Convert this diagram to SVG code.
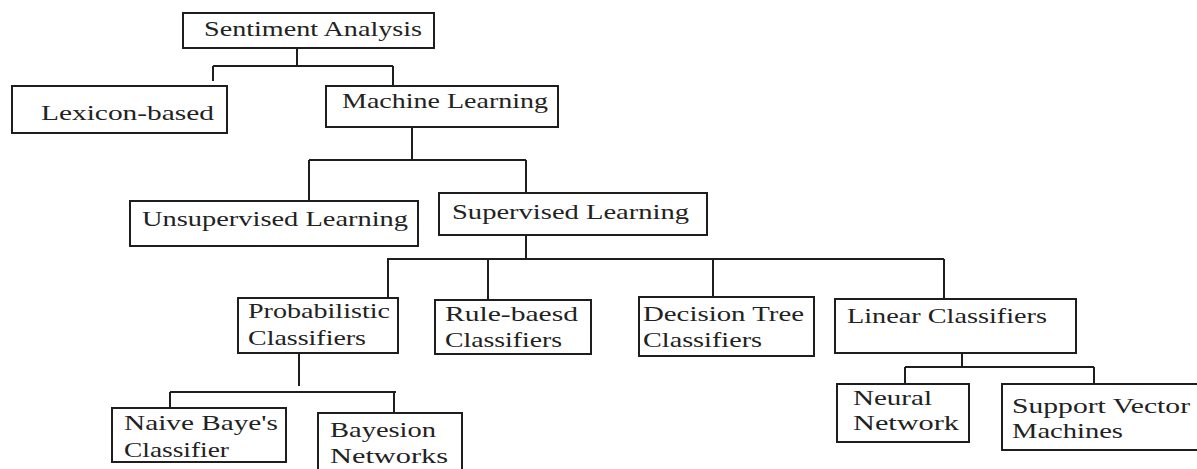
<svg xmlns="http://www.w3.org/2000/svg" width="1197" height="469" viewBox="0 0 1197 469">
<style>
.box{fill:#fff;stroke:#1e1e1e;stroke-width:2}
.t{font-family:"Liberation Serif","Times New Roman",serif;font-size:21px;fill:#222}
.c{fill:none;stroke:#1e1e1e;stroke-width:2}
</style>
<rect width="1197" height="469" fill="#fff"/>
<g id="connectors">
<path class="c" d="M297 48V66M213 66H393M213 66V81M393 66V86"/>
<path class="c" d="M412 127V160M309 160H526M309 160V201M526 160V193"/>
<path class="c" d="M526 235V259M387 259H944M388 259V298M488 259V300M713 259V297M944 259V299"/>
<path class="c" d="M299 353V386M170 392H396M170 392V408M394 392V413"/>
<path class="c" d="M962 353V367M905 367H1094M905 367V384M1094 367V384"/>
</g>
<g id="sentiment"><rect class="box" x="183" y="13" width="251" height="35"/><text class="t" x="204" y="36" textLength="218" lengthAdjust="spacingAndGlyphs">Sentiment Analysis</text></g>
<g id="lexicon"><rect class="box" x="12" y="86" width="215" height="47"/><text class="t" x="41" y="120" textLength="173" lengthAdjust="spacingAndGlyphs">Lexicon-based</text></g>
<g id="machine"><rect class="box" x="326" y="86" width="232" height="41"/><text class="t" x="342" y="108" textLength="206" lengthAdjust="spacingAndGlyphs">Machine Learning</text></g>
<g id="unsupervised"><rect class="box" x="130" y="201" width="288" height="45"/><text class="t" x="142" y="226" textLength="266" lengthAdjust="spacingAndGlyphs">Unsupervised Learning</text></g>
<g id="supervised"><rect class="box" x="439" y="193" width="268" height="42"/><text class="t" x="452" y="219" textLength="237" lengthAdjust="spacingAndGlyphs">Supervised Learning</text></g>
<g id="probabilistic"><rect class="box" x="238" y="298" width="160" height="55"/><text class="t" x="248" y="318" textLength="142" lengthAdjust="spacingAndGlyphs">Probabilistic</text><text class="t" x="248" y="345" textLength="118" lengthAdjust="spacingAndGlyphs">Classifiers</text></g>
<g id="rule"><rect class="box" x="435" y="300" width="156" height="54"/><text class="t" x="445" y="321" textLength="133" lengthAdjust="spacingAndGlyphs">Rule-baesd</text><text class="t" x="445" y="347" textLength="117" lengthAdjust="spacingAndGlyphs">Classifiers</text></g>
<g id="decision"><rect class="box" x="639" y="297" width="175" height="59"/><text class="t" x="643" y="321" textLength="161" lengthAdjust="spacingAndGlyphs">Decision Tree</text><text class="t" x="643" y="347" textLength="119" lengthAdjust="spacingAndGlyphs">Classifiers</text></g>
<g id="linear"><rect class="box" x="835" y="299" width="241" height="54"/><text class="t" x="847" y="323" textLength="200" lengthAdjust="spacingAndGlyphs">Linear Classifiers</text></g>
<g id="naive"><rect class="box" x="112" y="408" width="174" height="54"/><text class="t" x="124" y="430" textLength="154" lengthAdjust="spacingAndGlyphs">Naive Baye's</text><text class="t" x="124" y="457" textLength="105" lengthAdjust="spacingAndGlyphs">Classifier</text></g>
<g id="bayesion"><rect class="box" x="318" y="413" width="144" height="70"/><text class="t" x="330" y="437" textLength="106" lengthAdjust="spacingAndGlyphs">Bayesion</text><text class="t" x="330" y="463" textLength="118" lengthAdjust="spacingAndGlyphs">Networks</text></g>
<g id="neural"><rect class="box" x="837" y="384" width="132" height="58"/><text class="t" x="853" y="405" textLength="79" lengthAdjust="spacingAndGlyphs">Neural</text><text class="t" x="853" y="430" textLength="106" lengthAdjust="spacingAndGlyphs">Network</text></g>
<g id="svm"><rect class="box" x="1002" y="384" width="210" height="66"/><text class="t" x="1012" y="413" textLength="178" lengthAdjust="spacingAndGlyphs">Support Vector</text><text class="t" x="1012" y="438" textLength="111" lengthAdjust="spacingAndGlyphs">Machines</text></g>
</svg>
